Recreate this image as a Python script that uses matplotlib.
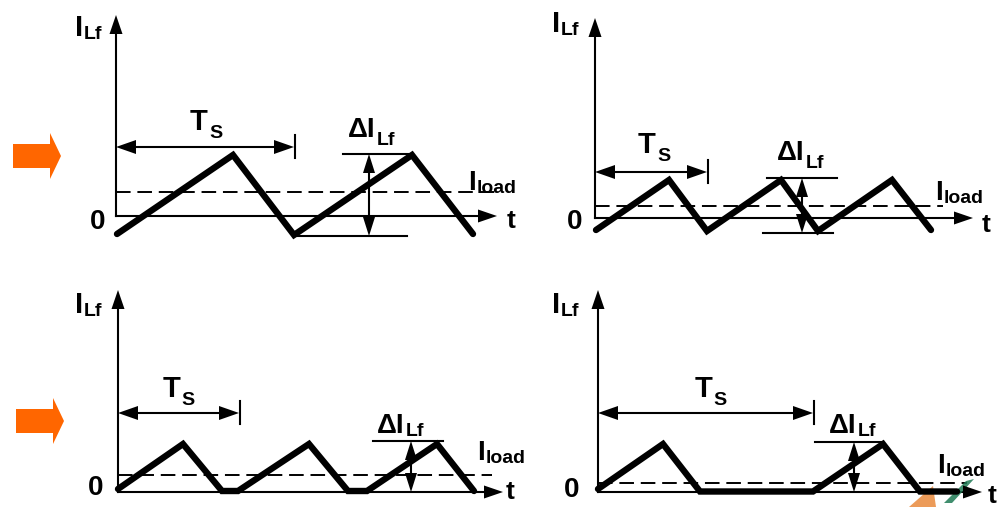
import numpy as np
import matplotlib
matplotlib.use('Agg')
import matplotlib.pyplot as plt
from matplotlib.patches import Polygon

# 四个面板的坐标原点（像素）及坐标轴长度
ORIGIN_X = [116, 595, 118, 598]
ORIGIN_Y = [216, 218, 492, 492]
Y_AXIS_LEN = [201, 200, 202, 202]
X_AXIS_LEN = [381, 378, 385, 384]

# 电感电流波形（相对原点：t 向右，I 向上）
WAVE_A_T = [1, 117, 178, 296, 357]
WAVE_A_I = [-18, 61, -19, 61, -18]
WAVE_B_T = [1, 74, 112, 186, 223, 297, 336]
WAVE_B_I = [-12, 38, -13, 38, -13, 38, -12]
WAVE_C_T = [0, 65, 104, 120, 191, 230, 249, 319, 356]
WAVE_C_I = [3, 48, 1, 1, 48, 1, 1, 48, 1]
WAVE_D_T = [0, 65, 102, 215, 285, 322, 359]
WAVE_D_I = [3, 48, 0.5, 0.5, 48, 0.5, 0.5]
WAVE_T = [WAVE_A_T, WAVE_B_T, WAVE_C_T, WAVE_D_T]
WAVE_I = [WAVE_A_I, WAVE_B_I, WAVE_C_I, WAVE_D_I]

# 负载电流（虚线）
I_LOAD = [24, 12, 17, 9]
LOAD_END = [384, 348, 374, 369]

# 开关周期 Ts
TS = [178, 112, 121, 215]
TS_LEVEL = [69, 46, 79, 79]

# 纹波 ΔI_Lf
DELTA_TOP = [62, 40, 51, 50]
DELTA_TOP_X0 = [227, 172, 255, 217]
DELTA_TOP_X1 = [297, 242, 325, 285]
DELTA_BOT = [-20, -15, 0, 0]
DELTA_BOT_X0 = [178, 168, None, None]
DELTA_BOT_X1 = [291, 238, None, None]
DELTA_X = [253, 207, 293, 256]

# 文字位置（相对原点）
ILF_POS = [(-41, 180), (-43, 186), (-43, 179), (-46, 179)]
ZERO_POS = [(-18, -6), (-20, -4), (-22, 4), (-26, 2)]
T_POS = [(395, -5), (391, -7), (392, 0), (394, -4)]
TS_POS = [(74, 86), (43, 65), (45, 95), (97, 95)]
DI_POS = [(232, 79), (182, 58), (259, 59), (231, 59)]
DI_DROP = [8, 8, 3, 3]
ILOAD_POS = [(352, 26), (340, 18), (359, 32), (339, 19)]

# 橙色箭头
ARROW_X = [13, 16]
ARROW_Y = [156, 421]

FONT = dict(family=['Liberation Sans', 'DejaVu Sans'], fontweight='bold', color='black')

fig = plt.figure(figsize=(9.99, 5.07), dpi=100)
ax = fig.add_axes([0, 0, 1, 1])
ax.set_xlim(0, 999)
ax.set_ylim(507, 0)
ax.axis('off')
renderer = fig.canvas.get_renderer()


def head(x, y, dx, dy, length=19, width=13):
    """实心三角箭头，(x, y) 为尖端"""
    n = np.hypot(dx, dy)
    ux, uy = dx / n, dy / n
    bx, by = x - ux * length, y - uy * length
    px, py = -uy * width / 2, ux * width / 2
    ax.add_patch(Polygon([(x, y), (bx + px, by + py), (bx - px, by - py)],
                         closed=True, color='black', lw=0, zorder=5))


def label(x, y, main, sub, size, sub_size, drop):
    t = ax.text(x, y, main, fontsize=size, ha='left', va='baseline', **FONT)
    w = t.get_window_extent(renderer).width
    ax.text(x + w + 1, y + drop, sub, fontsize=sub_size, ha='left', va='baseline', **FONT)


for k in range(4):
    ox, oy = ORIGIN_X[k], ORIGIN_Y[k]

    # 坐标轴
    ax.plot([ox, ox], [oy, oy - Y_AXIS_LEN[k] + 10], color='black', lw=1.5)
    head(ox, oy - Y_AXIS_LEN[k], 0, -1)
    ax.plot([ox, ox + X_AXIS_LEN[k] - 10], [oy, oy], color='black', lw=1.5)
    head(ox + X_AXIS_LEN[k], oy, 1, 0)

    # 负载电流
    ax.plot([ox, ox + LOAD_END[k]], [oy - I_LOAD[k]] * 2, color='black', lw=1.4,
            linestyle=(0, (7.5, 3.5)))

    # 电感电流
    ax.plot(ox + np.array(WAVE_T[k]), oy - np.array(WAVE_I[k]), color='black', lw=4.6,
            solid_joinstyle='miter', solid_capstyle='round', zorder=4)

    # Ts 标注
    ys = oy - TS_LEVEL[k]
    ax.plot([ox + 12, ox + TS[k] - 12], [ys, ys], color='black', lw=1.5)
    head(ox, ys, -1, 0, 20, 14)
    head(ox + TS[k], ys, 1, 0, 20, 14)
    ax.plot([ox + TS[k] + 1, ox + TS[k] + 1], [ys - 12, ys + 11], color='black', lw=1.5)

    # ΔI 标注
    yt, yb = oy - DELTA_TOP[k], oy - DELTA_BOT[k]
    ax.plot([ox + DELTA_TOP_X0[k], ox + DELTA_TOP_X1[k]], [yt, yt], color='black', lw=1.5)
    if DELTA_BOT_X0[k] is not None:
        ax.plot([ox + DELTA_BOT_X0[k], ox + DELTA_BOT_X1[k]], [yb, yb], color='black', lw=1.5)
    xd = ox + DELTA_X[k]
    ax.plot([xd, xd], [yt + 12, yb - 12], color='black', lw=1.5)
    head(xd, yt, 0, -1, 19, 12)
    head(xd, yb, 0, 1, 19, 12)

    # 文字
    label(ox + ILF_POS[k][0], oy - ILF_POS[k][1], 'I', 'Lf', 21, 14, 3)
    ax.text(ox + ZERO_POS[k][0], oy - ZERO_POS[k][1], '0', fontsize=20,
            ha='center', va='center', **FONT)
    ax.text(ox + T_POS[k][0], oy - T_POS[k][1], 't', fontsize=19,
            ha='center', va='center', **FONT)
    label(ox + TS_POS[k][0], oy - TS_POS[k][1], 'T', 'S', 21, 14, 8)
    label(ox + DI_POS[k][0], oy - DI_POS[k][1], 'ΔI', 'Lf', 20, 14, DI_DROP[k])
    label(ox + ILOAD_POS[k][0], oy - ILOAD_POS[k][1], 'I', 'load', 20, 14, 3)

# 橙色块状箭头
for x0, yc in zip(ARROW_X, ARROW_Y):
    ax.add_patch(Polygon([(x0, yc - 12), (x0 + 37, yc - 12), (x0 + 37, yc - 23),
                          (x0 + 48, yc), (x0 + 37, yc + 23), (x0 + 37, yc + 12),
                          (x0, yc + 12)], closed=True, color='#ff6600', lw=0))

# 右下角的装饰残影
ax.add_patch(Polygon([(909, 507), (933, 486), (936, 507)], closed=True,
                     color='#e98a3c', lw=0, alpha=0.85, zorder=3))
ax.add_patch(Polygon([(944, 503), (966, 481), (974, 479), (952, 503)], closed=True,
                     color='#1f7a55', lw=0, alpha=0.85, zorder=3))

fig.savefig('out.png', dpi=100)
plt.close(fig)
